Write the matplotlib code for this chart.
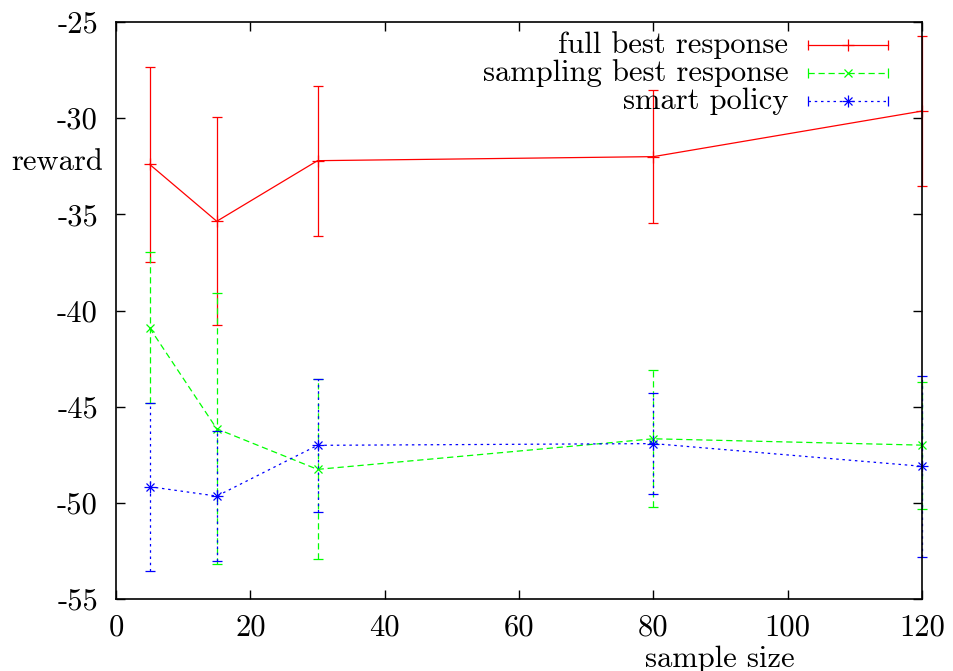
import matplotlib
matplotlib.use('Agg')
import matplotlib.pyplot as plt

plt.rcParams['font.family'] = ['cmr10', 'DejaVu Serif']
plt.rcParams['axes.unicode_minus'] = False
plt.rcParams['axes.formatter.use_mathtext'] = False

# data
sample_size = [5, 15, 30, 80, 120]

full_best = [-32.4, -35.36, -32.21, -32.0, -29.63]
full_best_err = [5.07, 5.4, 3.9, 3.45, 3.9]

sampling_best = [-40.9, -46.15, -48.26, -46.67, -47.0]
sampling_best_err = [3.92, 7.04, 4.68, 3.57, 3.3]

smart_policy = [-49.16, -49.65, -47.01, -46.92, -48.1]
smart_policy_err = [4.36, 3.36, 3.45, 2.64, 4.7]

labels = ['full best response', 'sampling best response', 'smart policy']
colors = ['#ff0000', '#00ff00', '#0000ff']
styles = ['-', (0, (5, 3)), (0, (2, 3))]
markers = ['+', 'x', '*']

FS = 22

fig = plt.figure(figsize=(9.54, 6.71), dpi=100)
ax = fig.add_axes([0.1216, 0.1073, 0.8449, 0.8599])

series = [(full_best, full_best_err), (sampling_best, sampling_best_err),
          (smart_policy, smart_policy_err)]

for (vals, errs), c, ls, m in zip(series, colors, styles, markers):
    eb = ax.errorbar(sample_size, vals, yerr=errs, color=c, ls=ls, lw=0.9,
                     elinewidth=0.9, capsize=3.5, capthick=0.9,
                     marker=None)
    eb[2][0].set_linestyle(ls)
    for art in list(eb[1]) + list(eb[2]) + [eb[0]]:
        art.set_clip_on(False)
    if m == '*':
        # gnuplot style star = plus + cross
        ax.plot(sample_size, vals, ls='none', marker='+', ms=8, mew=0.9, color=c, clip_on=False)
        ax.plot(sample_size, vals, ls='none', marker='x', ms=6, mew=0.9, color=c, clip_on=False)
    else:
        ax.plot(sample_size, vals, ls='none', marker=m, ms=8 if m == '+' else 6,
                mew=0.9, color=c, clip_on=False)

ax.set_xlim(0, 120)
ax.set_ylim(-55, -25)
ax.set_xticks([0, 20, 40, 60, 80, 100, 120])
ax.set_yticks([-55, -50, -45, -40, -35, -30, -25])
ax.tick_params(direction='in', length=6.5, width=1.0, top=True, right=True,
               labelsize=FS)
ax.tick_params(axis='y', pad=13)
ax.tick_params(axis='x', pad=11)
for sp in ax.spines.values():
    sp.set_linewidth(1.2)

ax.text(-0.016, 0.757, 'reward', transform=ax.transAxes, ha='right', va='center',
        fontsize=FS)
ax.text(0.749, -0.104, 'sample size', transform=ax.transAxes, ha='center', va='center',
        fontsize=FS)

# gnuplot-style key
rows = [0.960, 0.912, 0.863]
for lab, c, ls, m, y in zip(labels, colors, styles, markers, rows):
    ax.text(0.834, y, lab, transform=ax.transAxes, ha='right', va='center', fontsize=FS)
    ax.plot([0.858, 0.958], [y, y], transform=ax.transAxes, color=c, ls=ls, lw=0.9)
    ax.plot([0.858, 0.958], [y, y], transform=ax.transAxes, color=c, ls='none',
            marker='|', ms=7, mew=0.9)
    if m == '*':
        ax.plot([0.908], [y], transform=ax.transAxes, color=c, marker='+', ms=8, mew=0.9)
        ax.plot([0.908], [y], transform=ax.transAxes, color=c, marker='x', ms=6, mew=0.9)
    else:
        ax.plot([0.908], [y], transform=ax.transAxes, color=c, marker=m,
                ms=8 if m == '+' else 6, mew=0.9)

fig.savefig('out.png', dpi=100)
